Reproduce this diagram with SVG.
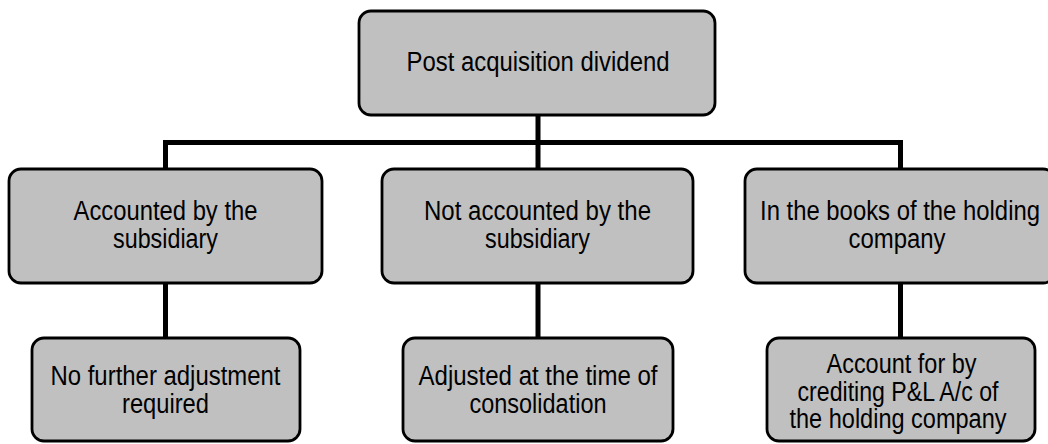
<svg xmlns="http://www.w3.org/2000/svg" width="1048" height="444" viewBox="0 0 1048 444">
  <style>
    .box { fill: #c0c0c0; stroke: #000; stroke-width: 2.8; }
    .lbl { font-family: "Liberation Sans", Arial, sans-serif; font-size: 27px; fill: #000; text-anchor: middle; }
    .wire { fill: none; stroke: #000; stroke-width: 5; }
  </style>
  <rect width="1048" height="444" fill="#fff"/>

  <!-- connectors -->
  <g id="connectors">
    <path class="wire" d="M538 115 V142.5 M165.5 169 V142.5 H900.5 V169 M538 142.5 V169"/>
    <path class="wire" d="M165.5 283 V338 M538 283 V338 M900.5 283 V338"/>
  </g>

  <g id="root">
    <rect class="box" x="359" y="11" width="356" height="104" rx="12"/>
    <text class="lbl" x="538" y="71" textLength="263" lengthAdjust="spacingAndGlyphs">Post acquisition dividend</text>
  </g>

  <g id="accounted">
    <rect class="box" x="9" y="169" width="313" height="114" rx="12"/>
    <text class="lbl" x="165.5" y="220" textLength="184" lengthAdjust="spacingAndGlyphs">Accounted by the</text>
    <text class="lbl" x="165.5" y="248" textLength="105" lengthAdjust="spacingAndGlyphs">subsidiary</text>
  </g>

  <g id="not-accounted">
    <rect class="box" x="382" y="169" width="311" height="114" rx="12"/>
    <text class="lbl" x="537.5" y="220" textLength="227" lengthAdjust="spacingAndGlyphs">Not accounted by the</text>
    <text class="lbl" x="537.5" y="248" textLength="105" lengthAdjust="spacingAndGlyphs">subsidiary</text>
  </g>

  <g id="holding-books">
    <rect class="box" x="745" y="169" width="310" height="114" rx="12"/>
    <text class="lbl" x="900" y="220" textLength="280" lengthAdjust="spacingAndGlyphs">In the books of the holding</text>
    <text class="lbl" x="897" y="248" textLength="97" lengthAdjust="spacingAndGlyphs">company</text>
  </g>

  <g id="no-adjustment">
    <rect class="box" x="32" y="338" width="268" height="103" rx="12"/>
    <text class="lbl" x="165.5" y="385" textLength="230" lengthAdjust="spacingAndGlyphs">No further adjustment</text>
    <text class="lbl" x="165.5" y="413" textLength="87" lengthAdjust="spacingAndGlyphs">required</text>
  </g>

  <g id="adjusted">
    <rect class="box" x="403" y="338" width="270" height="103" rx="12"/>
    <text class="lbl" x="538" y="385" textLength="239" lengthAdjust="spacingAndGlyphs">Adjusted at the time of</text>
    <text class="lbl" x="538" y="413" textLength="137" lengthAdjust="spacingAndGlyphs">consolidation</text>
  </g>

  <g id="credit-pl">
    <rect class="box" x="767" y="338" width="268" height="103" rx="12"/>
    <text class="lbl" x="901.5" y="373" textLength="150" lengthAdjust="spacingAndGlyphs">Account for by</text>
    <text class="lbl" x="898" y="401" textLength="201" lengthAdjust="spacingAndGlyphs">crediting P&amp;L A/c of</text>
    <text class="lbl" x="898" y="428" textLength="217" lengthAdjust="spacingAndGlyphs">the holding company</text>
  </g>
</svg>
